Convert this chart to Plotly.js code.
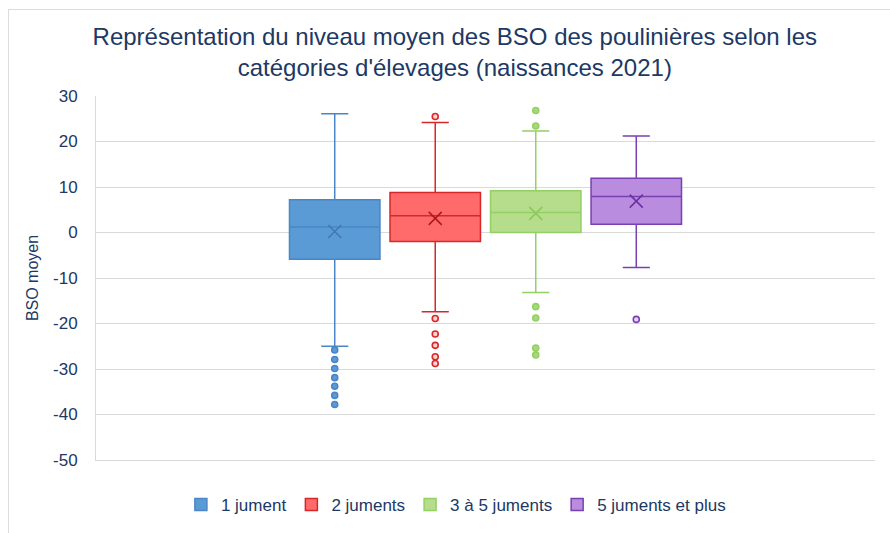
<!DOCTYPE html>
<html>
<head>
<meta charset="utf-8">
<script src="https://cdn.plot.ly/plotly-3.0.1.min.js"></script>
<style>
html,body{margin:0;padding:0;background:#fff;}
#wrap{position:relative;width:890px;height:533px;overflow:hidden;}
#frame{position:absolute;left:8px;top:9px;width:900px;height:600px;border-left:1px solid #dcdcdc;border-top:1px solid #dcdcdc;pointer-events:none;}
#chart{position:absolute;left:0;top:0;width:890px;height:533px;}
</style>
</head>
<body>
<div id="wrap"><div id="chart"></div><div id="frame"></div></div>
<script>
// ---- data ----
var categories = ['1 jument', '2 juments', '3 à 5 juments', '5 juments et plus'];
var q1Values = [-5.9, -2.0, 0.0, 1.8];
var medianValues = [1.2, 3.7, 4.4, 7.9];
var q3Values = [7.2, 8.8, 9.2, 11.9];
var lowerWhisker = [-25.0, -17.4, -13.2, -7.7];
var upperWhisker = [26.1, 24.2, 22.3, 21.2];
var meanValues = [0.2, 3.1, 4.2, 6.9];
var outliers1 = [-25.8, -27.9, -29.9, -31.9, -33.8, -35.8, -37.8];
var outliers2 = [25.5, -18.9, -22.3, -24.8, -27.3, -28.8];
var outliers3 = [26.8, 23.4, -16.3, -18.8, -25.4, -26.9];
var outliers4 = [-19.1];
var yTicks = [30, 20, 10, 0, -10, -20, -30, -40, -50];

// ---- styles ----
var fillColors = ['#5B9BD5', '#FF6B6B', '#B5DD8C', '#B98CE0'];
var lineColors = ['#4A86C5', '#D62828', '#94D063', '#7A3FB0'];
var meanColors = ['#3F77B0', '#B01818', '#8CC85A', '#6A2FA0'];
var outlierFill = ['#5B9BD5', '#FFD0D0', '#A6D97A', '#E6D6F5'];
var outlierSets = [outliers1, outliers2, outliers3, outliers4];
var textColor = '#203864';

var traces = [];
categories.forEach(function (name, i) {
  traces.push({
    type: 'box',
    name: name,
    x: [i],
    q1: [q1Values[i]],
    median: [medianValues[i]],
    q3: [q3Values[i]],
    lowerfence: [lowerWhisker[i]],
    upperfence: [upperWhisker[i]],
    boxpoints: false,
    width: 0.9,
    whiskerwidth: 0.3,
    fillcolor: fillColors[i],
    line: {color: lineColors[i], width: 1.5},
    hoverinfo: 'skip'
  });
});
categories.forEach(function (name, i) {
  traces.push({
    type: 'scatter',
    mode: 'markers',
    x: outlierSets[i].map(function () { return i; }),
    y: outlierSets[i],
    showlegend: false,
    marker: {symbol: 'circle', size: 6, color: outlierFill[i], line: {color: lineColors[i], width: 1.6}},
    hoverinfo: 'skip'
  });
  traces.push({
    type: 'scatter',
    mode: 'markers',
    x: [i],
    y: [meanValues[i]],
    showlegend: false,
    marker: {symbol: 'x-thin-open', size: 13, color: meanColors[i], line: {color: meanColors[i], width: 1.5}},
    hoverinfo: 'skip'
  });
});

var layout = {
  width: 890,
  height: 533,
  margin: {l: 96, r: 15, t: 96, b: 73},
  paper_bgcolor: '#ffffff',
  plot_bgcolor: '#ffffff',
  font: {family: 'Liberation Sans, Arial, sans-serif', color: textColor, size: 16},
  title: {
    text: 'Représentation du niveau moyen des BSO des poulinières selon les<br>catégories d\'élevages (naissances 2021)',
    font: {size: 24, color: textColor},
    x: 0.511, xanchor: 'center',
    yref: 'container', y: 1 - 45 / 533, yanchor: 'middle'
  },
  boxmode: 'overlay',
  xaxis: {
    range: [-2.375, 5.375],
    showticklabels: false,
    showgrid: false,
    zeroline: false,
    showline: true,
    linecolor: '#d9d9d9',
    linewidth: 1,
    fixedrange: true
  },
  yaxis: {
    range: [-50, 30],
    tickvals: yTicks,
    ticktext: yTicks.map(String),
    showgrid: true,
    gridcolor: '#d9d9d9',
    gridwidth: 1,
    zeroline: false,
    showline: true,
    linecolor: '#d9d9d9',
    ticks: '',
    ticklabelstandoff: 14,
    tickfont: {size: 17, color: textColor},
    title: {text: 'BSO moyen', font: {size: 16, color: textColor}, standoff: 10},
    fixedrange: true
  },
  showlegend: true,
  legend: {
    orientation: 'h',
    x: 0.462, xanchor: 'center',
    yref: 'container', y: 1 - 505 / 533, yanchor: 'middle',
    font: {size: 17, color: textColor},
    itemwidth: 30,
    traceorder: 'normal'
  }
};

Plotly.newPlot('chart', traces, layout, {staticPlot: true, displayModeBar: false});
</script>
</body>
</html>
